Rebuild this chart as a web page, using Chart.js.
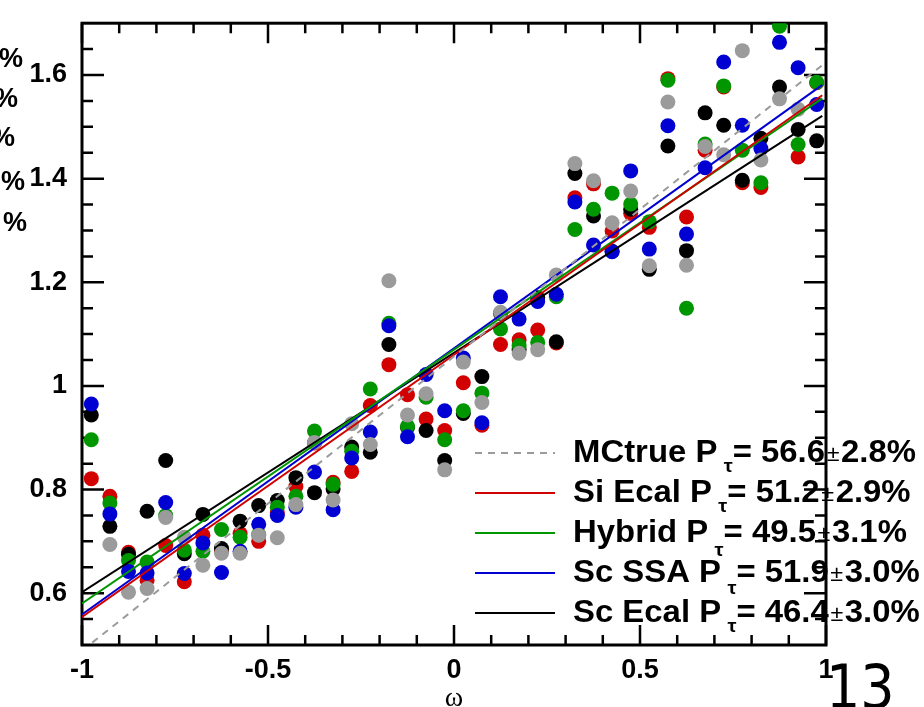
<!DOCTYPE html>
<html>
<head>
<meta charset="utf-8">
<script src="https://cdn.jsdelivr.net/npm/chart.js@4.4.1/dist/chart.umd.min.js"></script>
<style>
  html, body { margin: 0; padding: 0; background: #fff; }
  canvas { display: block; }
</style>
</head>
<body>
<canvas id="myChart" width="924" height="707"></canvas>
<script>
// bin centres in omega
var omega = [-0.975, -0.925, -0.875, -0.825, -0.775, -0.725, -0.675, -0.625, -0.575, -0.525,
             -0.475, -0.425, -0.375, -0.325, -0.275, -0.225, -0.175, -0.125, -0.075, -0.025,
              0.025,  0.075,  0.125,  0.175,  0.225,  0.275,  0.325,  0.375,  0.425,  0.475,
              0.525,  0.575,  0.625,  0.675,  0.725,  0.775,  0.825,  0.875,  0.925,  0.975];

// ratio per bin, one array per detector option (null = off the plot)
var siEcal = [0.821, 0.787, 0.679, 0.625, 0.692, 0.622, 0.712, 0.683, 0.715, 0.700,
              0.755, 0.806, 0.890, 0.814, 0.835, 0.962, 1.041, 0.983, 0.936, 0.914,
              1.006, 0.924, 1.080, 1.089, 1.108, 1.083, 1.363, 1.390, 1.299, 1.333,
              1.306, 1.593, 1.326, 1.455, 1.577, 1.392, 1.383, null,  1.442, 1.585];
var hybrid = [0.896, 0.774, 0.663, 0.660, 0.750, 0.683, 0.681, 0.723, 0.708, 0.713,
              0.766, 0.787, 0.913, 0.810, 0.874, 0.994, 1.121, 0.922, 0.978, 0.896,
              0.952, 0.986, 1.110, 1.078, 1.084, 1.172, 1.302, 1.341, 1.372, 1.351,
              1.317, 1.590, 1.150, 1.467, 1.579, 1.455, 1.392, 1.694, 1.466, 1.586];
var scSSA  = [0.965, 0.753, 0.642, 0.639, 0.775, 0.638, 0.697, 0.640, 0.681, 0.733,
              0.750, 0.766, 0.834, 0.761, 0.861, 0.911, 1.116, 0.902, 1.022, 0.952,
              1.054, 0.929, 1.172, 1.129, 1.163, 1.177, 1.355, 1.272, 1.259, 1.415,
              1.264, 1.502, 1.293, 1.421, 1.625, 1.503, 1.458, 1.663, 1.614, 1.543];
var scEcal = [0.944, 0.729, 0.675, 0.758, 0.856, 0.676, 0.752, 0.686, 0.739, 0.769,
              0.779, 0.823, 0.794, 0.801, 0.882, 0.872, 1.080, 0.920, 0.914, 0.856,
              0.947, 1.018, 1.140, 1.070, 1.170, 1.085, 1.410, 1.328, 1.260, 1.341,
              1.225, 1.463, 1.261, 1.527, 1.503, 1.397, 1.478, 1.577, 1.495, 1.473];
var mcTrue = [null,  0.694, 0.602, 0.609, 0.746, 0.708, 0.654, 0.677, 0.677, 0.712,
              0.707, 0.771, 0.891, 0.780, 0.927, 0.887, 1.203, 0.944, 0.985, 0.838,
              1.046, 0.968, 1.142, 1.063, 1.070, 1.214, 1.429, 1.396, 1.315, 1.376,
              1.232, 1.548, 1.233, 1.462, 1.446, 1.647, 1.436, 1.554, 1.534, null];

// fitted straight lines, value at each end of fitX
var fitX = [-1, 0.99];
var fitMCtrue = [0.489, 1.619];
var fitSiEcal = [0.554, 1.561];
var fitHybrid = [0.580, 1.555];
var fitScSSA  = [0.559, 1.581];
var fitScEcal = [0.602, 1.521];

var legendNames  = ['MCtrue', 'Si Ecal', 'Hybrid', 'Sc SSA', 'Sc Ecal'];
var legendValues = ['56.6', '51.2', '49.5', '51.9', '46.4'];
var legendErrors = ['2.8%', '2.9%', '3.1%', '3.0%', '3.0%'];

var xTicks = [-1, -0.5, 0, 0.5, 1];
var xTickLabels = ['-1', '-0.5', '0', '0.5', '1'];
var xMinor = [-0.9, -0.8, -0.7, -0.6, -0.4, -0.3, -0.2, -0.1, 0.1, 0.2, 0.3, 0.4, 0.6, 0.7, 0.8, 0.9];
var yTicks = [0.6, 0.8, 1, 1.2, 1.4, 1.6];
var yTickLabels = ['0.6', '0.8', '1', '1.2', '1.4', '1.6'];
var yMinor = [0.55, 0.65, 0.7, 0.75, 0.85, 0.9, 0.95, 1.05, 1.1, 1.15, 1.25, 1.3, 1.35, 1.45, 1.5, 1.55, 1.65];

var RED = '#d20000', GREEN = '#009600', BLUE = '#0000d2', BLACK = '#000000', GREY = '#9b9b9b';
var BOLD = '"Liberation Sans", Arial, Helvetica, sans-serif';

function toPoints(ys) {
    var out = [];
    for (var i = 0; i < omega.length; i++) {
        if (ys[i] !== null) out.push({ x: omega[i], y: ys[i] });
    }
    return out;
}
function fitPoints(ys) {
    return fitX.map(function (x, i) { return { x: x, y: ys[i] }; });
}
function dots(data, color, order) {
    return { type: 'scatter', data: toPoints(data), backgroundColor: color, borderWidth: 0,
             pointRadius: 7.5, pointHoverRadius: 7.5, order: order };
}
function line(data, color, order, dash) {
    return { type: 'line', data: fitPoints(data), borderColor: color, borderWidth: 2,
             borderDash: dash || [], pointRadius: 0, fill: false, order: order };
}

// frame with inward ticks on all four sides
var framePlugin = {
    id: 'frame',
    beforeDatasetsDraw: function (chart) {
        var ctx = chart.ctx, a = chart.chartArea;
        var xs = chart.scales.x, ys = chart.scales.y;
        ctx.save();
        ctx.strokeStyle = '#000';
        ctx.lineWidth = 2.5;
        ctx.beginPath();
        function xt(v, len) {
            var p = xs.getPixelForValue(v);
            ctx.moveTo(p, a.bottom); ctx.lineTo(p, a.bottom - len);
            ctx.moveTo(p, a.top); ctx.lineTo(p, a.top + len);
        }
        function yt(v, len) {
            var p = ys.getPixelForValue(v);
            ctx.moveTo(a.left, p); ctx.lineTo(a.left + len, p);
            ctx.moveTo(a.right, p); ctx.lineTo(a.right - len, p);
        }
        xTicks.forEach(function (v) { xt(v, 20); });
        xMinor.forEach(function (v) { xt(v, 10); });
        yTicks.forEach(function (v) { yt(v, 22); });
        yMinor.forEach(function (v) { yt(v, 11); });
        ctx.stroke();
        ctx.lineWidth = 3;
        ctx.strokeRect(a.left, a.top, a.right - a.left, a.bottom - a.top);
        ctx.restore();
    }
};

// ROOT style legend with subscript tau, plus loose page text
var legendPlugin = {
    id: 'rootLegend',
    afterDraw: function (chart) {
        var ctx = chart.ctx;
        var colors = [GREY, RED, GREEN, BLUE, BLACK];
        var tauDrop = [10, 10, 14, 12, 10];
        var big = 'bold 31px ' + BOLD, sub = 'bold 19px ' + BOLD, pm = '22px ' + BOLD;
        function widths(i) {
            ctx.font = big;
            var w1 = ctx.measureText(legendNames[i] + ' P').width;
            var w2 = ctx.measureText('= ' + legendValues[i]).width;
            var w3 = ctx.measureText(legendErrors[i]).width;
            ctx.font = sub;
            var wt = ctx.measureText('\u03c4').width;
            ctx.font = pm;
            var wp = ctx.measureText('\u00b1').width + 3;
            return { w1: w1, wt: wt, w2: w2, wp: wp, w3: w3, total: w1 + 6 + wt + w2 + wp + w3 };
        }
        var sx = 343 / widths(0).total;
        ctx.save();
        for (var i = 0; i < 5; i++) {
            var y = 453 + 40 * i;
            ctx.strokeStyle = colors[i];
            ctx.lineWidth = 2;
            ctx.setLineDash(i === 0 ? [7, 6] : []);
            ctx.beginPath();
            ctx.moveTo(475, y); ctx.lineTo(555, y);
            ctx.stroke();
            ctx.setLineDash([]);

            var w = widths(i);
            ctx.save();
            ctx.translate(573, y + 9);
            ctx.scale(sx, 1);
            ctx.fillStyle = '#000';
            ctx.textBaseline = 'alphabetic';
            ctx.textAlign = 'left';
            var x = 0;
            ctx.font = big; ctx.fillText(legendNames[i] + ' P', x, 0); x += w.w1 + 6;
            ctx.font = sub; ctx.fillText('\u03c4', x, tauDrop[i]); x += w.wt;
            ctx.font = big; ctx.fillText('= ' + legendValues[i], x, 0); x += w.w2;
            ctx.font = pm; ctx.fillText('\u00b1', x + 1.5, -1); x += w.wp;
            ctx.font = big; ctx.fillText(legendErrors[i], x, 0);
            ctx.restore();
        }

        // axis title
        ctx.fillStyle = '#000';
        ctx.textAlign = 'center';
        ctx.textBaseline = 'alphabetic';
        ctx.font = '28px "Liberation Serif", "DejaVu Serif", serif';
        ctx.fillText('\u03c9', 454, 706);

        // clipped remains of the neighbouring panel's legend
        ctx.font = 'bold 27px ' + BOLD;
        ctx.textAlign = 'right';
        ctx.textBaseline = 'middle';
        [[23, 60], [18, 100], [15, 139], [25, 183], [27, 224]].forEach(function (p) {
            ctx.fillText('%', p[0], p[1]);
        });

        // page number
        ctx.textAlign = 'left';
        ctx.textBaseline = 'alphabetic';
        ctx.font = '60px "Liberation Sans Narrow", "DejaVu Sans Condensed", sans-serif';
        ctx.fillText('13', 826, 708);
        ctx.restore();
    }
};

var ctx = document.getElementById('myChart').getContext('2d');
var myChart = new Chart(ctx, {
    type: 'scatter',
    data: {
        datasets: [
            line(fitMCtrue, GREY, 0, [7, 6]),
            line(fitSiEcal, RED, 1),
            line(fitHybrid, GREEN, 2),
            line(fitScSSA, BLUE, 3),
            line(fitScEcal, BLACK, 4),
            dots(mcTrue, GREY, 5),
            dots(scSSA, BLUE, 6),
            dots(hybrid, GREEN, 7),
            dots(scEcal, BLACK, 8),
            dots(siEcal, RED, 9)
        ]
    },
    options: {
        responsive: false,
        animation: false,
        layout: { padding: { top: 22, right: 98, left: 0, bottom: 0 } },
        plugins: { legend: { display: false }, tooltip: { enabled: false } },
        scales: {
            x: {
                type: 'linear', min: -1, max: 1,
                grid: { display: false },
                border: { display: false },
                afterBuildTicks: function (s) { s.ticks = xTicks.map(function (v) { return { value: v }; }); },
                afterFit: function (s) { s.height = 62; },
                ticks: {
                    padding: 1, color: '#000', maxRotation: 0, autoSkip: false,
                    font: { family: BOLD, weight: 'bold', size: 27 },
                    callback: function (v) { return xTickLabels[xTicks.indexOf(v)]; }
                }
            },
            y: {
                type: 'linear', min: 0.5, max: 1.7,
                grid: { display: false },
                border: { display: false },
                afterBuildTicks: function (s) { s.ticks = yTicks.map(function (v) { return { value: v }; }); },
                afterFit: function (s) { s.width = 82; },
                ticks: {
                    padding: 7, color: '#000', autoSkip: false,
                    font: { family: BOLD, weight: 'bold', size: 27 },
                    callback: function (v) { return yTickLabels[yTicks.indexOf(v)]; }
                }
            }
        }
    },
    plugins: [framePlugin, legendPlugin]
});
</script>
</body>
</html>
